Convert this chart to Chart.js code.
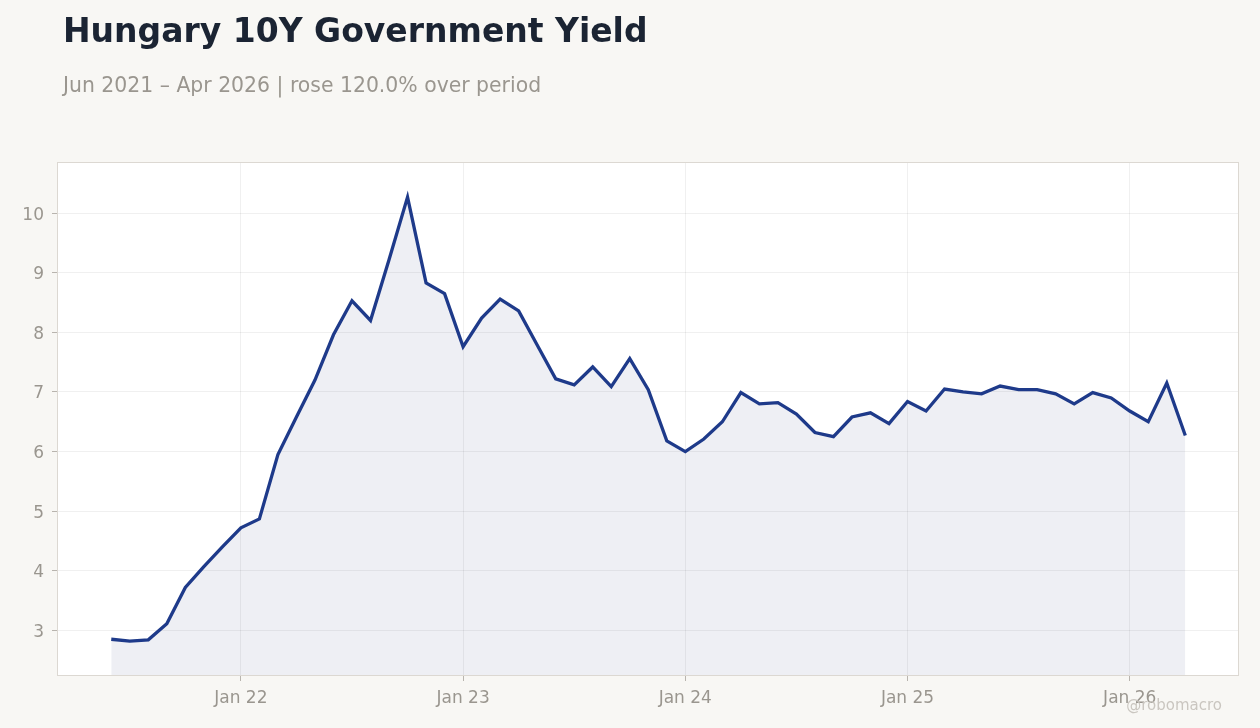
<!DOCTYPE html>
<html>
<head>
<meta charset="utf-8">
<script src="https://cdn.jsdelivr.net/npm/chart.js@4.4.1/dist/chart.umd.min.js"></script>
<style>
  html, body { margin: 0; padding: 0; background: #f8f7f4; }
  body { width: 1260px; height: 728px; position: relative; overflow: hidden; font-family: "DejaVu Sans", sans-serif; }
  #title { position: absolute; left: 63px; top: 11px; font-size: 33px; font-weight: bold; color: #1b2433; white-space: nowrap; }
  #subtitle { position: absolute; left: 63px; top: 73px; font-size: 20.4px; color: #9a968f; white-space: nowrap; }
  #credit { position: absolute; right: 38px; top: 696px; font-size: 15px; color: #cac6c0; white-space: nowrap; }
  #wrap { position: absolute; left: 0; top: 0; width: 1260px; height: 728px; }
</style>
</head>
<body>
<div id="wrap"><canvas id="chart" width="1260" height="728"></canvas></div>
<div id="title">Hungary 10Y Government Yield</div>
<div id="subtitle">Jun 2021 – Apr 2026 | rose 120.0% over period</div>
<div id="credit">@robomacro</div>
<script>
// monthly observations, Jun 2021 .. Apr 2026
const months = [
  'Jun 21', 'Jul 21', 'Aug 21', 'Sep 21', 'Oct 21', 'Nov 21', 'Dec 21',
  'Jan 22', 'Feb 22', 'Mar 22', 'Apr 22', 'May 22', 'Jun 22', 'Jul 22', 'Aug 22', 'Sep 22', 'Oct 22', 'Nov 22', 'Dec 22',
  'Jan 23', 'Feb 23', 'Mar 23', 'Apr 23', 'May 23', 'Jun 23', 'Jul 23', 'Aug 23', 'Sep 23', 'Oct 23', 'Nov 23', 'Dec 23',
  'Jan 24', 'Feb 24', 'Mar 24', 'Apr 24', 'May 24', 'Jun 24', 'Jul 24', 'Aug 24', 'Sep 24', 'Oct 24', 'Nov 24', 'Dec 24',
  'Jan 25', 'Feb 25', 'Mar 25', 'Apr 25', 'May 25', 'Jun 25', 'Jul 25', 'Aug 25', 'Sep 25', 'Oct 25', 'Nov 25', 'Dec 25',
  'Jan 26', 'Feb 26', 'Mar 26', 'Apr 26'
];

const yields = [
  2.85, 2.82, 2.84, 3.11, 3.72, 4.07, 4.40,
  4.72, 4.87, 5.95, 6.58, 7.20, 7.96, 8.53, 8.20, 9.22, 10.27, 8.83, 8.65,
  7.76, 8.24, 8.56, 8.36, 7.79, 7.22, 7.12, 7.42, 7.09, 7.56, 7.04, 6.18,
  6.00, 6.21, 6.50, 6.99, 6.80, 6.82, 6.63, 6.32, 6.25, 6.58, 6.65, 6.47,
  6.84, 6.68, 7.05, 7.00, 6.97, 7.10, 7.04, 7.04, 6.97, 6.80, 6.99, 6.90,
  6.68, 6.50, 7.15, 6.27
];

const xTickLabels = ['Jan 22', 'Jan 23', 'Jan 24', 'Jan 25', 'Jan 26'];
const yTicks = [3, 4, 5, 6, 7, 8, 9, 10];

const lineColor = '#1e3a8a';

// white plot background + thin frame round the chart area
const plotFrame = {
  id: 'plotFrame',
  beforeDraw(chart) {
    const a = chart.chartArea;
    const ctx = chart.ctx;
    ctx.save();
    ctx.fillStyle = '#ffffff';
    ctx.fillRect(a.left, a.top, a.right - a.left, a.bottom - a.top);
    ctx.restore();
  },
  afterDraw(chart) {
    const a = chart.chartArea;
    const ctx = chart.ctx;
    ctx.save();
    ctx.strokeStyle = '#dcd8d2';
    ctx.lineWidth = 1;
    ctx.strokeRect(a.left + 0.5, a.top + 0.5, a.right - a.left - 1, a.bottom - a.top);
    ctx.restore();
  }
};

const points = yields.map((v, i) => ({ x: i, y: v }));

new Chart(document.getElementById('chart'), {
  type: 'line',
  data: {
    datasets: [{
      label: 'Hungary 10Y',
      data: points,
      borderColor: lineColor,
      borderWidth: 3.3,
      backgroundColor: 'rgba(40, 50, 120, 0.08)',
      fill: 'start',
      pointRadius: 0,
      tension: 0
    }]
  },
  options: {
    responsive: false,
    animation: false,
    layout: { padding: { top: 162, right: 21, left: 0, bottom: 0 } },
    plugins: {
      legend: { display: false },
      tooltip: { enabled: false }
    },
    scales: {
      x: {
        type: 'linear',
        min: -2.93,
        max: 60.9,
        afterBuildTicks: (scale) => {
          scale.ticks = months
            .map((m, i) => ({ m, i }))
            .filter(o => xTickLabels.includes(o.m))
            .map(o => ({ value: o.i }));
        },
        afterFit: (scale) => { scale.height = 53; },
        ticks: {
          callback: (value) => months[value],
          color: '#9a968f',
          font: { family: 'DejaVu Sans', size: 17 },
          padding: 7,
          maxRotation: 0
        },
        grid: {
          color: 'rgba(0, 0, 0, 0.06)',
          tickColor: '#b8b4ae',
          tickLength: 6
        },
        border: { display: false }
      },
      y: {
        min: 2.25,
        max: 10.86,
        afterBuildTicks: (scale) => {
          scale.ticks = yTicks.map(v => ({ value: v }));
        },
        afterFit: (scale) => { scale.width = 57; },
        ticks: {
          color: '#9a968f',
          font: { family: 'DejaVu Sans', size: 17 },
          padding: 8,
          labelOffset: 2
        },
        grid: {
          color: 'rgba(0, 0, 0, 0.06)',
          tickColor: '#b8b4ae',
          tickLength: 5
        },
        border: { display: false }
      }
    }
  },
  plugins: [plotFrame]
});
</script>
</body>
</html>
